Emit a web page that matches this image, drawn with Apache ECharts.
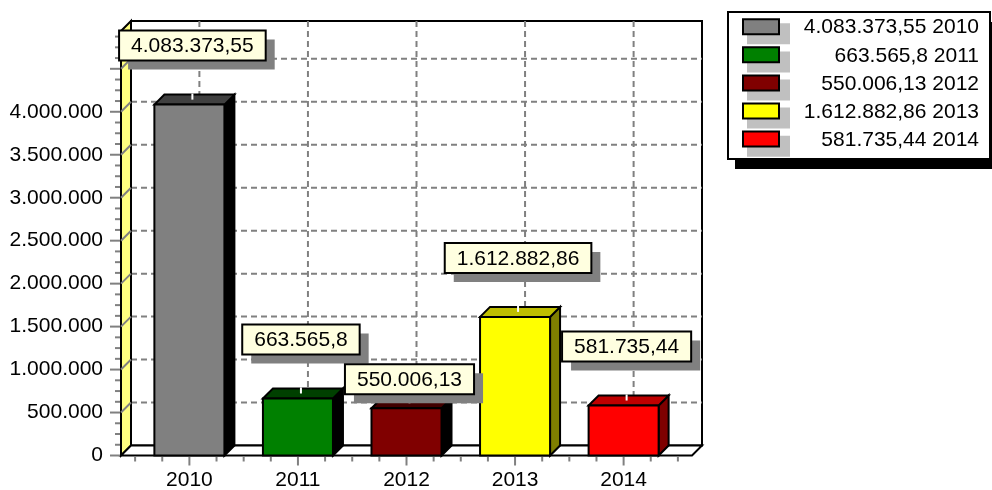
<!DOCTYPE html>
<html><head><meta charset="utf-8">
<script src="https://cdn.jsdelivr.net/npm/echarts@6/dist/echarts.min.js"></script>
<style>html,body{margin:0;padding:0;background:#fff}#c{width:992px;height:490px}</style>
</head><body><div id="c"></div>
<script>
// ---- data ----
const years = ['2010', '2011', '2012', '2013', '2014'];
const values = [4083373.55, 663565.8, 550006.13, 1612882.86, 581735.44];
// ---- styles ----
const frontColors = ['#808080', '#008000', '#800000', '#ffff00', '#ff0000'];
const topColors = ['#404040', '#004000', '#400000', '#bfbf00', '#bf0000'];
const sideColors = ['#000000', '#000000', '#000000', '#7f7f00', '#7f0000'];

const FONT = '"Liberation Sans", Arial, sans-serif';
const FS = 21;
const D = 10;
const XMIN = -0.63, XMAX = 4.63, YMAX = 4940000, YSTEP = 500000, YMINOR = 125000, BARW = 0.645;

function fmt(v) {
  let s = Math.abs(v).toFixed(2);
  let parts = s.split('.');
  let i = parts[0].replace(/\B(?=(\d{3})+(?!\d))/g, '.');
  let d = parts[1].replace(/0+$/, '');
  return (v < 0 ? '-' : '') + i + (d ? ',' + d : '');
}
const mctx = document.createElement('canvas').getContext('2d');
mctx.font = FS + 'px ' + FONT;
function measure(t) { return mctx.measureText(t).width; }

const dash = { stroke: '#808080', lineWidth: 2, lineDash: [6, 4] };

function renderFrame(params, api) {
  const p00 = api.coord([XMIN, 0]), p10 = api.coord([XMAX, 0]), p01 = api.coord([XMIN, YMAX]);
  const L = p00[0], R = p10[0], B = p00[1], T = p01[1];
  const ch = [];
  ch.push({ type: 'rect', shape: { x: L + D, y: T - D, width: R - L, height: B - T }, style: { fill: '#fff', stroke: '#000', lineWidth: 2 } });
  for (let v = YSTEP; v <= YMAX; v += YSTEP) {
    const y = api.coord([XMIN, v])[1];
    ch.push({ type: 'line', shape: { x1: L + D, y1: y - D, x2: R + D, y2: y - D }, style: dash });
  }
  for (let i = 0; i < years.length; i++) {
    const x = api.coord([i, 0])[0];
    ch.push({ type: 'line', shape: { x1: x + D, y1: T - D, x2: x + D, y2: B - D }, style: dash });
  }
  ch.push({ type: 'polygon', shape: { points: [[L, B], [L + D, B - D], [L + D, T - D], [L, T]] }, style: { fill: '#ffff80', stroke: '#000', lineWidth: 2 } });
  for (let v = YSTEP; v <= YMAX; v += YSTEP) {
    const y = api.coord([XMIN, v])[1];
    ch.push({ type: 'line', shape: { x1: L, y1: y, x2: L + D, y2: y - D }, style: { stroke: '#808080', lineWidth: 2 } });
  }
  ch.push({ type: 'polygon', shape: { points: [[L, B], [R, B], [R + D, B - D], [L + D, B - D]] }, style: { fill: '#fff', stroke: '#000', lineWidth: 2 } });
  for (let v = 0; v <= YMAX + 1; v += YMINOR) {
    const y = api.coord([XMIN, v])[1];
    const major = v % YSTEP === 0;
    ch.push({ type: 'line', shape: { x1: L - (major ? 11 : 6), y1: y, x2: L - 1, y2: y }, style: { stroke: '#808080', lineWidth: 2 } });
  }
  for (let k = -2; k <= 18; k++) {
    const x = api.coord([k / 4, 0])[0];
    const major = k % 4 === 0;
    ch.push({ type: 'line', shape: { x1: x, y1: B + 1, x2: x, y2: B + (major ? 10 : 6) }, style: { stroke: '#808080', lineWidth: 2 } });
  }
  years.forEach(function (yr, i) {
    const x = api.coord([i, 0])[0];
    ch.push({ type: 'text', style: { text: yr, x: x, y: B + 25, align: 'center', verticalAlign: 'middle', fill: '#000', font: FS + 'px ' + FONT } });
  });
  return { type: 'group', children: ch };
}

function renderBar(params, api) {
  const i = api.value(0), v = api.value(1);
  const p = api.coord([i, v]), b = api.coord([i, 0]);
  const hw = api.size([BARW, 0])[0] / 2;
  const l = p[0] - hw, r = p[0] + hw, t = p[1], bt = b[1];
  const st = { stroke: '#000', lineWidth: 2, lineJoin: 'miter' };
  return {
    type: 'group', children: [
      { type: 'polygon', shape: { points: [[r, t], [r + D, t - D], [r + D, bt - D], [r, bt]] }, style: Object.assign({ fill: sideColors[i] }, st) },
      { type: 'polygon', shape: { points: [[l, t], [l + D, t - D], [r + D, t - D], [r, t]] }, style: Object.assign({ fill: topColors[i] }, st) },
      { type: 'rect', shape: { x: l, y: t, width: r - l, height: bt - t }, style: Object.assign({ fill: frontColors[i] }, st) },
      { type: 'line', shape: { x1: p[0] + 3, y1: t - 11, x2: p[0] + 3, y2: t - 5 }, style: { stroke: '#fff', lineWidth: 2 } }
    ]
  };
}

function labelBoxes(api) {
  const boxes = [];
  const h = 30, padX = 12;
  for (let i = 0; i < values.length; i++) {
    const p = api.coord([i, values[i]]);
    const txt = fmt(values[i]);
    const w = measure(txt) + 2 * padX;
    let x = p[0] + 3 - w / 2, y = p[1] - 59 - h / 2;
    for (const bx of boxes) {
      if (x < bx.x + bx.w && x + w > bx.x && y < bx.y + bx.h && y + h > bx.y) { y += h; }
    }
    boxes.push({ x: x, y: y, w: w, h: h, txt: txt });
  }
  return boxes;
}

function renderLabel(params, api) {
  const i = api.value(0);
  const bx = labelBoxes(api)[i];
  return {
    type: 'group', children: [
      { type: 'rect', shape: { x: bx.x + 9, y: bx.y + 9, width: bx.w, height: bx.h }, style: { fill: '#808080' } },
      { type: 'rect', shape: { x: bx.x, y: bx.y, width: bx.w, height: bx.h }, style: { fill: '#ffffe0', stroke: '#000', lineWidth: 2 } },
      { type: 'text', style: { text: bx.txt, x: bx.x + bx.w / 2, y: bx.y + bx.h / 2 + 1, align: 'center', verticalAlign: 'middle', fill: '#000', font: FS + 'px ' + FONT } }
    ]
  };
}

const graphic = [];
graphic.push({ type: 'rect', shape: { x: 735, y: 22, width: 260, height: 147 }, style: { fill: '#000' }, z: 100 });
graphic.push({ type: 'rect', shape: { x: 728, y: 12, width: 262, height: 147 }, style: { fill: '#fff', stroke: '#000', lineWidth: 2 }, z: 101 });
years.forEach(function (yr, i) {
  const cy = 26.7 + 28.1 * i;
  graphic.push({ type: 'rect', shape: { x: 747, y: cy - 3.4, width: 43, height: 21 }, style: { fill: '#c0c0c0' }, z: 102 });
  graphic.push({ type: 'rect', shape: { x: 743, y: cy - 7.5, width: 36, height: 15 }, style: { fill: frontColors[i], stroke: '#000', lineWidth: 2 }, z: 103 });
  graphic.push({ type: 'text', style: { text: fmt(values[i]) + ' ' + yr, x: 979, y: cy + 1, align: 'right', verticalAlign: 'middle', fill: '#000', font: FS + 'px ' + FONT }, z: 103 });
});

const chart = echarts.init(document.getElementById('c'), null, { renderer: 'canvas' });
chart.setOption({
  animation: false,
  backgroundColor: '#fff',
  grid: { left: 121, right: 300, top: 31, bottom: 34.5, containLabel: false, outerBoundsMode: 'none' },
  xAxis: { type: 'value', min: XMIN, max: XMAX, show: false },
  yAxis: {
    type: 'value', min: 0, max: YMAX, interval: YSTEP,
    axisLine: { show: false }, axisTick: { show: false }, splitLine: { show: false },
    axisLabel: { margin: 18, color: '#000', fontSize: FS, fontFamily: FONT, showMaxLabel: false,
      formatter: function (v) { return v <= 4000000 ? fmt(v) : ''; } }
  },
  graphic: graphic,
  series: [
    { type: 'custom', renderItem: renderFrame, data: [[0, 0]], clip: false, silent: true, z: 1 },
    { type: 'custom', renderItem: renderBar, data: values.map(function (v, i) { return [i, v]; }), clip: false, silent: true, z: 2 },
    { type: 'custom', renderItem: renderLabel, data: values.map(function (v, i) { return [i, v]; }), clip: false, silent: true, z: 3 }
  ]
});
</script></body></html>
